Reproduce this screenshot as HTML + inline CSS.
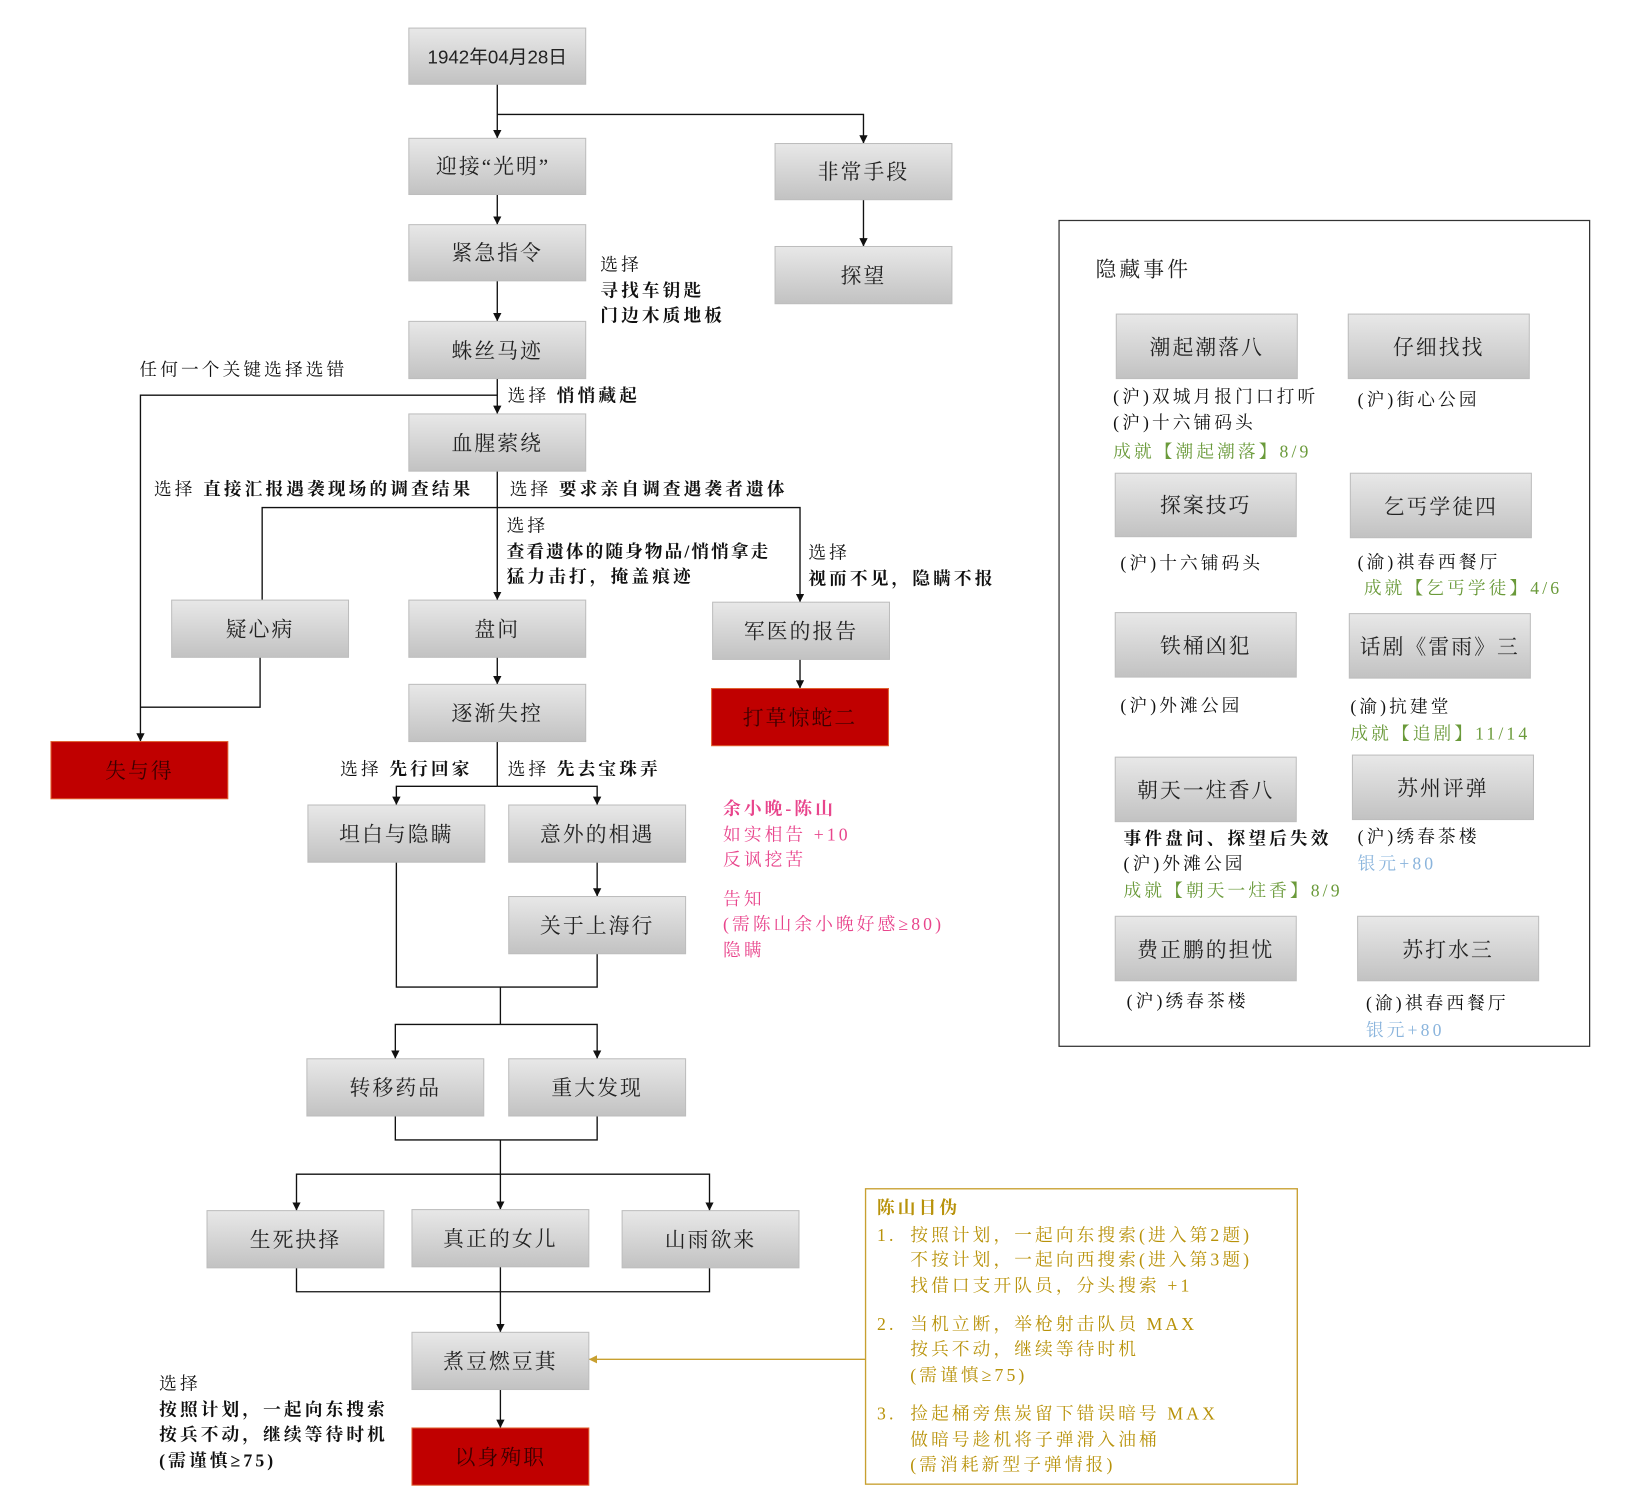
<!DOCTYPE html>
<html><head><meta charset="utf-8"><style>
html,body{margin:0;padding:0;background:#fff;}
svg{display:block;}
text{font-family:"Liberation Serif","Noto Serif CJK SC",serif;}
.bt{font-size:20px;fill:#222;text-anchor:middle;letter-spacing:2px;}
.rt{font-size:20px;fill:#3a0000;text-anchor:middle;letter-spacing:2px;}
.lb,.pk,.gd,.gr,.bl{letter-spacing:3px;}
.lb{font-size:17px;fill:#111;}
.b{font-weight:bold;}
.pk{font-size:17px;fill:#e8458c;}
.gd{font-size:17px;fill:#b8920a;}
.gr{font-size:17px;fill:#6a9a3a;}
.bl{font-size:17px;fill:#8ab4dc;}
line,polyline{stroke:#111;stroke-width:1.3;fill:none;}
</style></head><body>
<svg width="1625" height="1506" viewBox="0 0 1562 1448" preserveAspectRatio="none" xmlns="http://www.w3.org/2000/svg">
<defs>
<marker id="ar" viewBox="0 0 10 10" refX="10" refY="5" markerWidth="8" markerHeight="8" orient="auto" markerUnits="userSpaceOnUse"><path d="M0,0 L10,5 L0,10 z" fill="#111"/></marker>
<marker id="ag" viewBox="0 0 10 10" refX="10" refY="5" markerWidth="8" markerHeight="8" orient="auto" markerUnits="userSpaceOnUse"><path d="M0,0 L10,5 L0,10 z" fill="#c8a030"/></marker>
<linearGradient id="g" x1="0" y1="0" x2="0" y2="1"><stop offset="0" stop-color="#e8e8e8"/><stop offset="1" stop-color="#c2c2c2"/></linearGradient>
</defs>

<g>
<line x1="478" y1="81" x2="478" y2="133" marker-end="url(#ar)"/>
<polyline points="478,110 830,110 830,138" marker-end="url(#ar)"/>
<line x1="478" y1="187" x2="478" y2="216" marker-end="url(#ar)"/>
<line x1="830" y1="192" x2="830" y2="237" marker-end="url(#ar)"/>
<line x1="478" y1="270" x2="478" y2="309" marker-end="url(#ar)"/>
<line x1="478" y1="364" x2="478" y2="398" marker-end="url(#ar)"/>
<polyline points="478,380 135,380 135,713" marker-end="url(#ar)"/>
<line x1="478" y1="453" x2="478" y2="577" marker-end="url(#ar)"/>
<polyline points="252,577 252,488 769,488 769,579" marker-end="url(#ar)"/>
<polyline points="250,632 250,680 135,680"/>
<line x1="478" y1="632" x2="478" y2="658" marker-end="url(#ar)"/>
<line x1="769" y1="634" x2="769" y2="662" marker-end="url(#ar)"/>
<line x1="478" y1="713" x2="478" y2="756"/>
<polyline points="478,756 381,756 381,774" marker-end="url(#ar)"/>
<polyline points="478,756 574,756 574,774" marker-end="url(#ar)"/>
<line x1="574" y1="829" x2="574" y2="862" marker-end="url(#ar)"/>
<polyline points="381,829 381,949 574,949 574,917"/>
<line x1="481" y1="949" x2="481" y2="985"/>
<polyline points="481,985 380,985 380,1018" marker-end="url(#ar)"/>
<polyline points="481,985 574,985 574,1018" marker-end="url(#ar)"/>
<polyline points="380,1073 380,1096 574,1096 574,1073"/>
<line x1="481" y1="1096" x2="481" y2="1163" marker-end="url(#ar)"/>
<polyline points="481,1129 285,1129 285,1164" marker-end="url(#ar)"/>
<polyline points="481,1129 682,1129 682,1164" marker-end="url(#ar)"/>
<polyline points="285,1219 285,1242 682,1242 682,1219"/>
<line x1="481" y1="1218" x2="481" y2="1281" marker-end="url(#ar)"/>
<line x1="481" y1="1336" x2="481" y2="1373" marker-end="url(#ar)"/>
<line x1="832" y1="1307" x2="566" y2="1307" style="stroke:#c8a030" marker-end="url(#ag)"/>
</g>

<g stroke="#bdbdbd" stroke-width="1" fill="url(#g)">
<rect x="393" y="27" width="170" height="54"/>
<rect x="393" y="133" width="170" height="54"/>
<rect x="745" y="138" width="170" height="54"/>
<rect x="393" y="216" width="170" height="54"/>
<rect x="745" y="237" width="170" height="55"/>
<rect x="393" y="309" width="170" height="55"/>
<rect x="393" y="398" width="170" height="55"/>
<rect x="165" y="577" width="170" height="55"/>
<rect x="393" y="577" width="170" height="55"/>
<rect x="685" y="579" width="170" height="55"/>
<rect x="393" y="658" width="170" height="55"/>
<rect x="296" y="774" width="170" height="55"/>
<rect x="489" y="774" width="170" height="55"/>
<rect x="489" y="862" width="170" height="55"/>
<rect x="295" y="1018" width="170" height="55"/>
<rect x="489" y="1018" width="170" height="55"/>
<rect x="199" y="1164" width="170" height="55"/>
<rect x="396" y="1163" width="170" height="55"/>
<rect x="598" y="1164" width="170" height="55"/>
<rect x="396" y="1281" width="170" height="55"/>
<rect x="1073" y="302" width="174" height="62"/>
<rect x="1296" y="302" width="174" height="62"/>
<rect x="1072" y="455" width="174" height="61"/>
<rect x="1298" y="455" width="174" height="62"/>
<rect x="1072" y="589" width="174" height="62"/>
<rect x="1297" y="590" width="174" height="62"/>
<rect x="1072" y="728" width="174" height="62"/>
<rect x="1300" y="726" width="174" height="62"/>
<rect x="1072" y="881" width="174" height="62"/>
<rect x="1305" y="881" width="174" height="62"/>
</g>
<g fill="#c00000" stroke="#e06030" stroke-width="1">
<rect x="684" y="662" width="170" height="55"/>
<rect x="49" y="713" width="170" height="55"/>
<rect x="396" y="1373" width="170" height="55"/>
</g>

<text class="bt" x="478" y="61" style="font-family:'Liberation Sans','Noto Sans CJK SC',sans-serif;font-size:18px;letter-spacing:0">1942年04月28日</text>
<text class="bt" x="474" y="167">迎接“光明”</text>
<text class="bt" x="830" y="172">非常手段</text>
<text class="bt" x="478" y="250">紧急指令</text>
<text class="bt" x="830" y="272">探望</text>
<text class="bt" x="478" y="344">蛛丝马迹</text>
<text class="bt" x="478" y="433">血腥萦绕</text>
<text class="bt" x="250" y="612">疑心病</text>
<text class="bt" x="478" y="612">盘问</text>
<text class="bt" x="770" y="614">军医的报告</text>
<text class="bt" x="478" y="693">逐渐失控</text>
<text class="bt" x="381" y="809">坦白与隐瞒</text>
<text class="bt" x="574" y="809">意外的相遇</text>
<text class="bt" x="574" y="897">关于上海行</text>
<text class="bt" x="380" y="1053">转移药品</text>
<text class="bt" x="574" y="1053">重大发现</text>
<text class="bt" x="284" y="1199">生死抉择</text>
<text class="bt" x="481" y="1198">真正的女儿</text>
<text class="bt" x="683" y="1199">山雨欲来</text>
<text class="bt" x="481" y="1316">煮豆燃豆萁</text>
<text class="rt" x="769" y="697">打草惊蛇二</text>
<text class="rt" x="134" y="748">失与得</text>
<text class="rt" x="481" y="1408">以身殉职</text>

<text class="lb" x="577" y="260">选择</text>
<text class="lb b" x="577" y="285">寻找车钥匙</text>
<text class="lb b" x="577" y="309">门边木质地板</text>
<text class="lb" x="134" y="361">任何一个关键选择选错</text>
<text class="lb" x="488" y="386">选择 <tspan class="b">悄悄藏起</tspan></text>
<text class="lb" x="148" y="476">选择 <tspan class="b">直接汇报遇袭现场的调查结果</tspan></text>
<text class="lb" x="490" y="476">选择 <tspan class="b">要求亲自调查遇袭者遗体</tspan></text>
<text class="lb" x="487" y="511">选择</text>
<text class="lb b" x="487" y="536" style="letter-spacing:2px">查看遗体的随身物品/悄悄拿走</text>
<text class="lb b" x="487" y="560">猛力击打，掩盖痕迹</text>
<text class="lb" x="777" y="537">选择</text>
<text class="lb b" x="777" y="562">视而不见，隐瞒不报</text>
<text class="lb" x="327" y="745">选择 <tspan class="b">先行回家</tspan></text>
<text class="lb" x="488" y="745">选择 <tspan class="b">先去宝珠弄</tspan></text>
<text class="pk b" x="695" y="783">余小晚-陈山</text>
<text class="pk" x="695" y="808">如实相告 +10</text>
<text class="pk" x="695" y="832">反讽挖苦</text>
<text class="pk" x="695" y="870">告知</text>
<text class="pk" x="695" y="894">(需陈山余小晚好感≥80)</text>
<text class="pk" x="695" y="919">隐瞒</text>
<text class="lb" x="153" y="1336">选择</text>
<text class="lb b" x="153" y="1361">按照计划，一起向东搜索</text>
<text class="lb b" x="153" y="1385">按兵不动，继续等待时机</text>
<text class="lb b" x="153" y="1410">(需谨慎≥75)</text>

<rect x="1018" y="212" width="510" height="794" fill="none" stroke="#333" stroke-width="1.2"/>
<text x="1053" y="266" style="font-size:20px;fill:#222;letter-spacing:3px">隐藏事件</text>
<text class="bt" x="1160" y="341">潮起潮落八</text>
<text class="bt" x="1383" y="341">仔细找找</text>
<text class="bt" x="1159" y="493">探案技巧</text>
<text class="bt" x="1385" y="494">乞丐学徒四</text>
<text class="bt" x="1159" y="628">铁桶凶犯</text>
<text class="bt" x="1384" y="629">话剧《雷雨》三</text>
<text class="bt" x="1159" y="767">朝天一炷香八</text>
<text class="bt" x="1387" y="765">苏州评弹</text>
<text class="bt" x="1159" y="920">费正鹏的担忧</text>
<text class="bt" x="1392" y="920">苏打水三</text>
<text class="lb" x="1070" y="387">(沪)双城月报门口打听</text>
<text class="lb" x="1070" y="412">(沪)十六铺码头</text>
<text class="gr" x="1070" y="440">成就【潮起潮落】8/9</text>
<text class="lb" x="1305" y="390">(沪)街心公园</text>
<text class="lb" x="1077" y="547">(沪)十六铺码头</text>
<text class="lb" x="1305" y="546">(渝)祺春西餐厅</text>
<text class="gr" x="1311" y="571">成就【乞丐学徒】4/6</text>
<text class="lb" x="1077" y="684">(沪)外滩公园</text>
<text class="lb" x="1298" y="685">(渝)抗建堂</text>
<text class="gr" x="1298" y="711">成就【追剧】11/14</text>
<text class="lb b" x="1080" y="812">事件盘问、探望后失效</text>
<text class="lb" x="1080" y="836">(沪)外滩公园</text>
<text class="gr" x="1080" y="862">成就【朝天一炷香】8/9</text>
<text class="lb" x="1305" y="810">(沪)绣春茶楼</text>
<text class="bl" x="1305" y="836">银元+80</text>
<text class="lb" x="1083" y="968">(沪)绣春茶楼</text>
<text class="lb" x="1313" y="970">(渝)祺春西餐厅</text>
<text class="bl" x="1313" y="996">银元+80</text>

<rect x="832" y="1143" width="415" height="284" fill="none" stroke="#c8a030" stroke-width="1.3"/>
<text class="gd b" x="843" y="1167">陈山日伪</text>
<text class="gd" x="843" y="1193">1.</text><text class="gd" x="875" y="1193">按照计划，一起向东搜索(进入第2题)</text>
<text class="gd" x="875" y="1217">不按计划，一起向西搜索(进入第3题)</text>
<text class="gd" x="875" y="1242">找借口支开队员，分头搜索 +1</text>
<text class="gd" x="843" y="1279">2.</text><text class="gd" x="875" y="1279">当机立断，举枪射击队员 MAX</text>
<text class="gd" x="875" y="1303">按兵不动，继续等待时机</text>
<text class="gd" x="875" y="1328">(需谨慎≥75)</text>
<text class="gd" x="843" y="1365">3.</text><text class="gd" x="875" y="1365">捡起桶旁焦炭留下错误暗号 MAX</text>
<text class="gd" x="875" y="1390">做暗号趁机将子弹滑入油桶</text>
<text class="gd" x="875" y="1414">(需消耗新型子弹情报)</text>
</svg>
</body></html>
